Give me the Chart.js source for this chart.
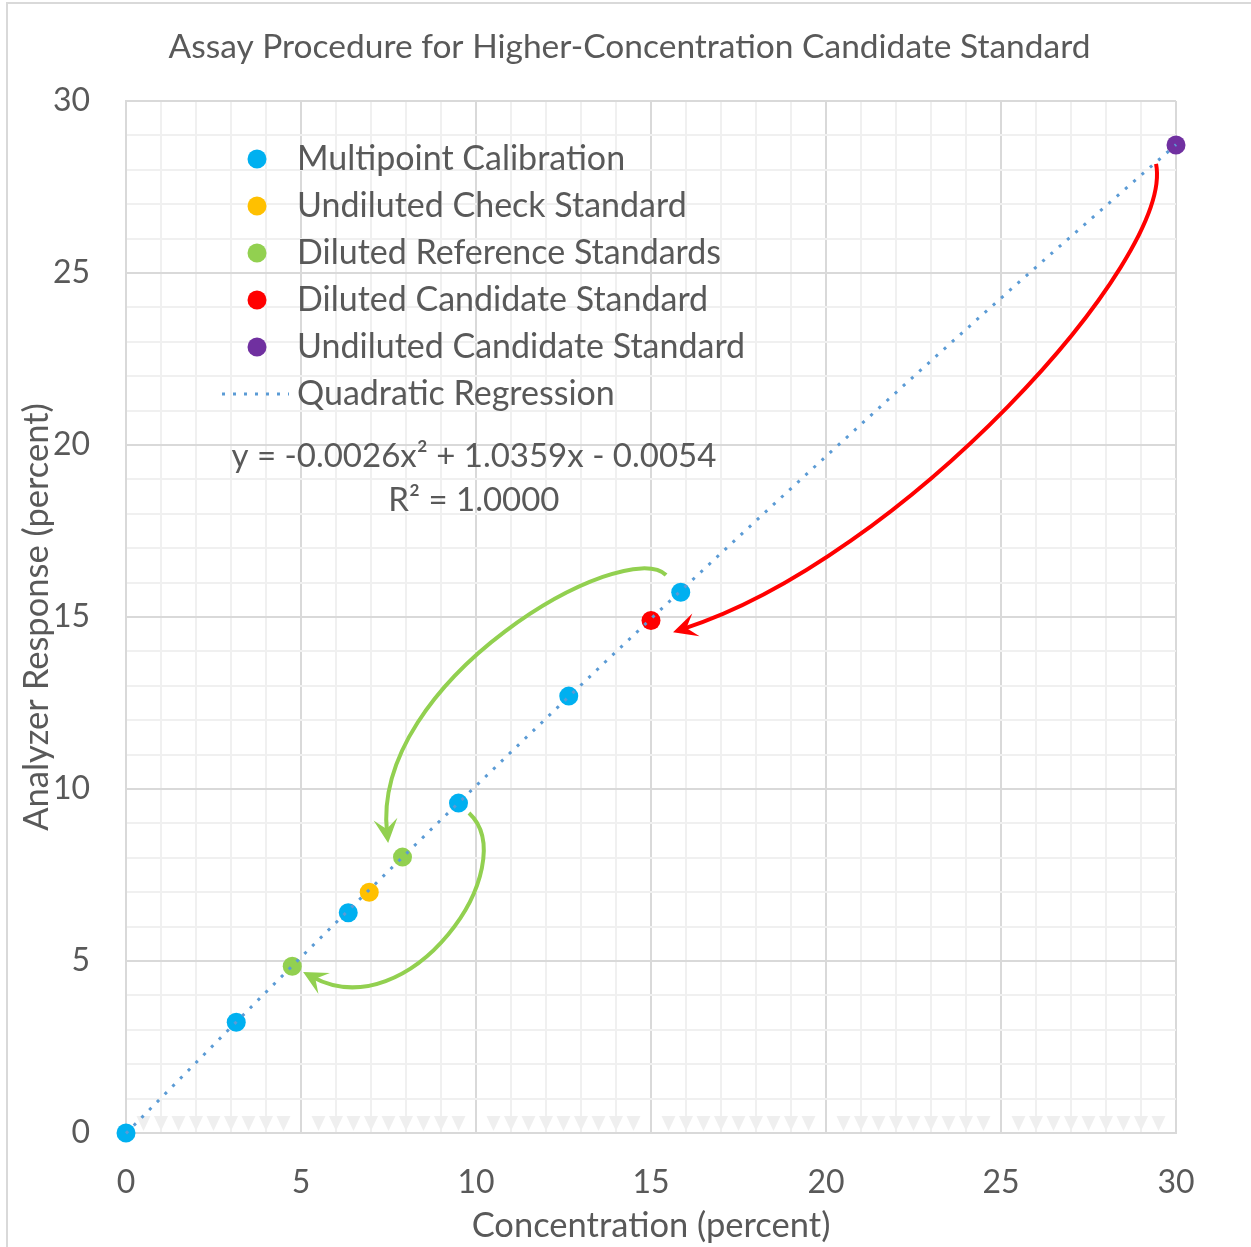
<!DOCTYPE html>
<html lang="en">

<head>
    <meta charset="UTF-8">
    <title>Assay Procedure</title>
    <script src="https://cdn.jsdelivr.net/npm/chart.js"></script>
    <style>
        body { margin: 0; background: #fff; }
        #wrap { width: 1251px; height: 1247px; position: relative; }
    </style>
</head>

<body>
    <div id="wrap"><canvas id="chart"></canvas></div>
    <script>
        // values
        const calibX = [0, 3.15, 6.35, 9.5, 12.65, 15.85];
        const calibY = [0, 3.22, 6.4, 9.59, 12.7, 15.72];
        const checkX = [6.95];
        const checkY = [7.0];
        const dilRefX = [4.75, 7.9];
        const dilRefY = [4.85, 8.02];
        const dilCandX = [15.0];
        const dilCandY = [14.9];
        const undilCandX = [30];
        const undilCandY = [28.72];
        const regX = [0, 5, 10, 15, 20, 25, 30];
        const regY = [-0.01, 5.11, 10.09, 14.95, 19.67, 24.27, 28.73];
        const xTickLabels = [0, 5, 10, 15, 20, 25, 30];
        const yTickLabels = [0, 5, 10, 15, 20, 25, 30];

        const chartTitle = 'Assay Procedure for Higher-Concentration Candidate Standard';
        const textColor = '#595959';
        const fontFamily = 'Lato, "Open Sans", sans-serif';

        function pts(xs, ys) {
            return xs.map((x, i) => ({ x: x, y: ys[i] }));
        }

        // curved arrows, control points in data units [x, y]
        const arrows = [
            { color: '#92d050', p: [[15.43, 16.22], [14.26, 17.38], [6.97, 13.17], [7.49, 8.43]] },
            { color: '#92d050', p: [[9.8, 9.3], [11.4, 7.79], [8.11, 2.99], [5.06, 4.68]] },
            { color: '#ff0000', p: [[29.43, 28.17], [29.97, 25.38], [22.11, 16.66], [15.63, 14.56]] }
        ];

        const extras = {
            id: 'extras',
            beforeDatasetsDraw(chart) {
                // little triangles along the bottom row
                const { ctx, chartArea, scales } = chart;
                ctx.save();
                ctx.fillStyle = '#efefef';
                for (let v = 0.5; v < 30; v += 0.5) {
                    if (v % 5 === 0) continue;
                    const px = scales.x.getPixelForValue(v);
                    const b = chartArea.bottom - 2;
                    ctx.beginPath();
                    ctx.moveTo(px - 7, b - 15);
                    ctx.lineTo(px + 7, b - 15);
                    ctx.lineTo(px, b);
                    ctx.closePath();
                    ctx.fill();
                }
                ctx.restore();
            },
            afterDatasetsDraw(chart) {
                const { ctx, scales } = chart;
                ctx.save();
                arrows.forEach(a => {
                    const q = a.p.map(c => [scales.x.getPixelForValue(c[0]), scales.y.getPixelForValue(c[1])]);
                    ctx.strokeStyle = a.color;
                    ctx.fillStyle = a.color;
                    ctx.lineWidth = 4;
                    const dx = q[3][0] - q[2][0], dy = q[3][1] - q[2][1];
                    const len = Math.hypot(dx, dy);
                    const ux = dx / len, uy = dy / len;
                    ctx.beginPath();
                    ctx.moveTo(q[0][0], q[0][1]);
                    ctx.bezierCurveTo(q[1][0], q[1][1], q[2][0], q[2][1], q[3][0] - ux * 10, q[3][1] - uy * 10);
                    ctx.stroke();
                    // stealth head
                    const hx = q[3][0], hy = q[3][1];
                    ctx.beginPath();
                    ctx.moveTo(hx, hy);
                    ctx.lineTo(hx - ux * 24 - uy * 12, hy - uy * 24 + ux * 12);
                    ctx.lineTo(hx - ux * 14, hy - uy * 14);
                    ctx.lineTo(hx - ux * 24 + uy * 12, hy - uy * 24 - ux * 12);
                    ctx.closePath();
                    ctx.fill();
                });

                // legend inside the plot
                const area = chart.chartArea;
                const lx = area.left + 131;
                const tx = area.left + 171;
                let ly = area.top + 58;
                ctx.font = '34px ' + fontFamily;
                ctx.textBaseline = 'middle';
                ctx.textAlign = 'left';
                chart.data.datasets.forEach(ds => {
                    if (ds.type === 'line') {
                        ctx.strokeStyle = ds.borderColor;
                        ctx.lineWidth = 3;
                        ctx.setLineDash([3, 8]);
                        ctx.beginPath();
                        ctx.moveTo(lx - 35, ly);
                        ctx.lineTo(lx + 32, ly);
                        ctx.stroke();
                        ctx.setLineDash([]);
                    } else {
                        ctx.fillStyle = ds.backgroundColor;
                        ctx.beginPath();
                        ctx.arc(lx, ly, 9.5, 0, Math.PI * 2);
                        ctx.fill();
                    }
                    ctx.fillStyle = textColor;
                    ctx.fillText(ds.label, tx, ly);
                    ly += 47;
                });

                // regression equation
                ctx.font = '33px ' + fontFamily;
                ctx.textAlign = 'center';
                const ex = scales.x.getPixelForValue(9.94);
                ctx.fillText('y = -0.0026x\u00B2 + 1.0359x - 0.0054', ex, scales.y.getPixelForValue(19.68));
                ctx.fillText('R\u00B2 = 1.0000', ex, scales.y.getPixelForValue(18.4));

                // chart title
                ctx.font = '33.5px ' + fontFamily;
                ctx.fillText(chartTitle, chart.width / 2 + 4, 47);

                // outer border
                ctx.strokeStyle = '#d9d9d9';
                ctx.lineWidth = 2;
                ctx.strokeRect(7, 3, chart.width + 20, chart.height + 20);
                ctx.restore();
            }
        };

        const gridColor = ctx => (ctx.tick && ctx.tick.value % 5 === 0) ? '#d9d9d9' : '#f0f0f0';

        new Chart(document.getElementById('chart'), {
            type: 'scatter',
            data: {
                datasets: [
                    { label: 'Multipoint Calibration', data: pts(calibX, calibY), backgroundColor: '#00b0f0', order: 1 },
                    { label: 'Undiluted Check Standard', data: pts(checkX, checkY), backgroundColor: '#ffc000', order: 1 },
                    { label: 'Diluted Reference Standards', data: pts(dilRefX, dilRefY), backgroundColor: '#92d050', order: 1 },
                    { label: 'Diluted Candidate Standard', data: pts(dilCandX, dilCandY), backgroundColor: '#ff0000', order: 1 },
                    { label: 'Undiluted Candidate Standard', data: pts(undilCandX, undilCandY), backgroundColor: '#7030a0', order: 1 },
                    {
                        type: 'line', label: 'Quadratic Regression', data: pts(regX, regY),
                        borderColor: '#5b9bd5', borderWidth: 3, borderDash: [3, 8], pointRadius: 0,
                        cubicInterpolationMode: 'monotone', fill: false, order: 0
                    }
                ]
            },
            options: {
                responsive: true,
                maintainAspectRatio: false,
                animation: false,
                clip: false,
                elements: { point: { radius: 9.5, borderWidth: 0, hoverRadius: 9.5 } },
                layout: { padding: { left: 0, right: 75, top: 101, bottom: 0 } },
                plugins: {
                    legend: { display: false },
                    tooltip: { enabled: false },
                    title: { display: false }
                },
                scales: {
                    x: {
                        type: 'linear', min: 0, max: 30,
                        afterFit: s => { s.height = 114; },
                        ticks: {
                            stepSize: 1, autoSkip: false, maxRotation: 0, padding: 30,
                            color: textColor, font: { family: fontFamily, size: 32 },
                            callback: v => xTickLabels.includes(v) ? String(v) : ''
                        },
                        grid: { color: gridColor, lineWidth: 2, drawTicks: false },
                        border: { color: '#d9d9d9', width: 2 },
                        title: {
                            display: true, text: 'Concentration (percent)', color: textColor,
                            font: { family: fontFamily, size: 34.5, lineHeight: 1.2 }, padding: { top: 29.3, bottom: 0 }
                        }
                    },
                    y: {
                        type: 'linear', min: 0, max: 30,
                        afterFit: s => { s.width = 126; },
                        ticks: {
                            stepSize: 1, autoSkip: false, padding: 36,
                            color: textColor, font: { family: fontFamily, size: 32 },
                            callback: v => yTickLabels.includes(v) ? String(v) : ''
                        },
                        grid: { color: gridColor, lineWidth: 2, drawTicks: false },
                        border: { color: '#d9d9d9', width: 2 },
                        title: {
                            display: true, text: 'Analyzer Response (percent)', color: textColor,
                            font: { family: fontFamily, size: 34.5, lineHeight: 1.2 }, padding: { top: 16.3, bottom: 0 }
                        }
                    }
                }
            },
            plugins: [extras]
        });
    </script>
</body>

</html>
